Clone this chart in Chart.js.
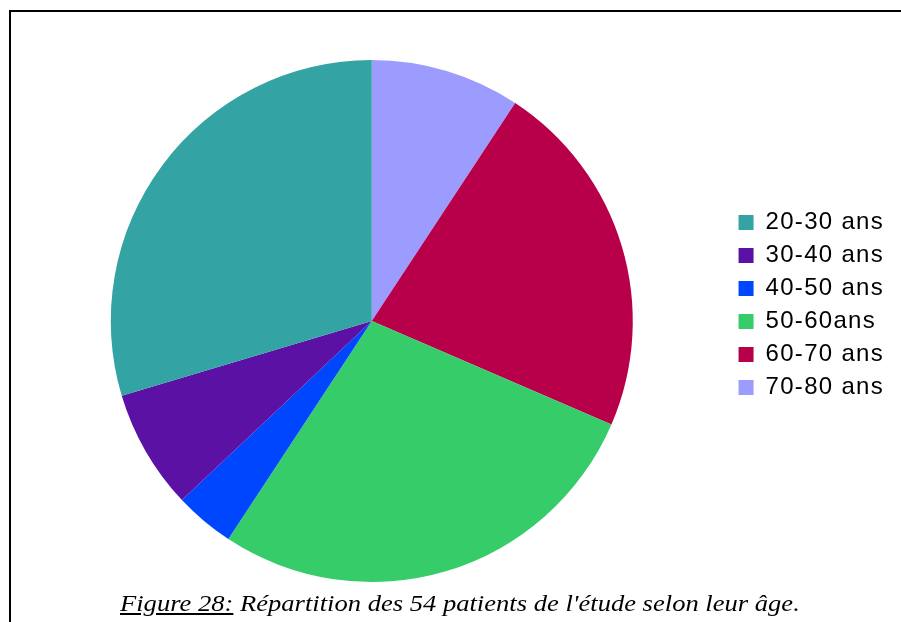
<!DOCTYPE html>
<html>
<head>
<meta charset="utf-8">
<script src="https://cdn.jsdelivr.net/npm/chart.js@4/dist/chart.umd.min.js"></script>
<style>
  html, body { margin: 0; padding: 0; background: #fff; }
  #wrap { position: relative; width: 901px; height: 622px; overflow: hidden; }
  #c { position: absolute; left: 0; top: 0; }
  .ln { position: absolute; background: #000; }
  #caption { position: absolute; left: 120px; top: 592px; line-height: 23px;
    transform: scaleX(1.155); transform-origin: 0 0;
    font-family: "Liberation Serif", "Times New Roman", serif; font-style: italic; font-size: 23px; color: #000; white-space: nowrap; }
  #caption u { text-decoration: underline; }
</style>
</head>
<body>
<div id="wrap">
  <canvas id="c" width="901" height="622"></canvas>
  <div class="ln" style="left:9px;top:10px;width:892px;height:2px"></div>
  <div class="ln" style="left:9px;top:10px;width:2px;height:612px"></div>
  <div id="caption"><u>Figure 28:</u> Répartition des 54 patients de l'étude selon leur âge.</div>
</div>
<script>
const categories = ['20-30 ans', '30-40 ans', '40-50 ans', '50-60ans', '60-70 ans', '70-80 ans'];
const patients = [16, 4, 2, 15, 12, 5];
const sliceColors = ['#33A3A3', '#5C11A5', '#0046FF', '#36CC69', '#B8004A', '#9C9CFF'];

// Reference slices run counter-clockwise from 12 o'clock; Chart.js draws clockwise,
// so the dataset is fed in reverse and the legend is reversed back.
const labelsRev = categories.slice().reverse();
const dataRev = patients.slice().reverse();
const colorsRev = sliceColors.slice().reverse();

const legendTweaks = {
  id: 'legendTweaks',
  beforeUpdate(chart) { chart.ctx.letterSpacing = '1.3px'; },
  beforeDraw(chart) { chart.ctx.letterSpacing = '1.3px'; },
  afterLayout(chart) {
    if (chart.legend) { chart.legend.top -= 16; chart.legend.bottom -= 16; }
  }
};

new Chart(document.getElementById('c'), {
  type: 'pie',
  data: {
    labels: labelsRev,
    datasets: [{ data: dataRev, backgroundColor: colorsRev, borderWidth: 0 }]
  },
  options: {
    responsive: false,
    animation: false,
    devicePixelRatio: 1,
    layout: { padding: { left: 14, right: 7, top: 60, bottom: 40 } },
    plugins: {
      tooltip: { enabled: false },
      legend: {
        position: 'right',
        reverse: true,
        labels: {
          boxWidth: 15, boxHeight: 15, padding: 9, color: '#000',
          font: { family: '"Liberation Sans", Arial, sans-serif', size: 24 }
        }
      }
    }
  },
  plugins: [legendTweaks]
});
</script>
</body>
</html>
